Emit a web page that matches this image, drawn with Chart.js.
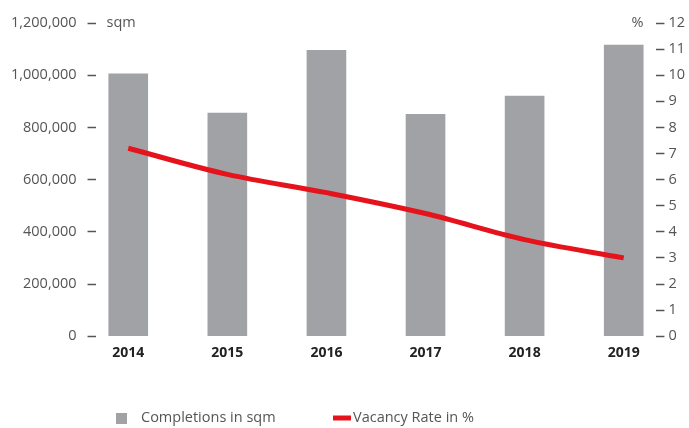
<!DOCTYPE html>
<html>
<head>
<meta charset="utf-8">
<script src="https://cdn.jsdelivr.net/npm/chart.js@4"></script>
<style>
  html, body { margin: 0; padding: 0; background: #fff; }
</style>
</head>
<body>
<canvas id="chart" width="689" height="428"></canvas>
<script>
const years = ["2014", "2015", "2016", "2017", "2018", "2019"];
const completions = [1005000, 855000, 1095000, 850000, 920000, 1115000];
const vacancyRate = [7.2, 6.2, 5.5, 4.7, 3.7, 3.0];
const leftTicksMax = 1200000;
const rightTicksMax = 12;

const FONT = "'Open Sans', 'Noto Sans', sans-serif";
const BAR_COLOR = "#a0a2a5";
const LINE_COLOR = "#e5141c";
const TEXT_COLOR = "#555555";

// unit labels next to top ticks + legend at bottom
const extras = {
    id: "extras",
    afterDraw(chart) {
        const ctx = chart.ctx;
        const area = chart.chartArea;
        const yTop = chart.scales.y.getPixelForValue(leftTicksMax);
        ctx.save();
        ctx.font = "14.5px " + FONT;
        ctx.fillStyle = TEXT_COLOR;
        ctx.textBaseline = "middle";
        ctx.textAlign = "left";
        ctx.fillText("sqm", area.left + 11, yTop);
        ctx.textAlign = "right";
        ctx.fillText("%", area.right - 13, yTop);

        // legend
        const ly = 418;
        ctx.textAlign = "left";
        ctx.fillStyle = BAR_COLOR;
        ctx.fillRect(116, ly - 5, 11, 11);
        ctx.fillStyle = TEXT_COLOR;
        ctx.fillText("Completions in sqm", 141, ly);
        ctx.strokeStyle = LINE_COLOR;
        ctx.lineWidth = 5;
        ctx.beginPath();
        ctx.moveTo(333, ly);
        ctx.lineTo(351, ly);
        ctx.stroke();
        ctx.fillText("Vacancy Rate in %", 353, ly);
        ctx.restore();
    }
};

const ctx = document.getElementById("chart").getContext("2d");

new Chart(ctx, {
    type: "bar",
    data: {
        datasets: [{
            type: "line",
            label: "Vacancy Rate in %",
            data: vacancyRate.map((v, i) => ({ x: i, y: v })),
            yAxisID: "y1",
            borderColor: LINE_COLOR,
            borderWidth: 5,
            pointRadius: 0,
            tension: 0.35,
            fill: false,
            order: 0
        }, {
            label: "Completions in sqm",
            data: completions.map((v, i) => ({ x: i, y: v })),
            yAxisID: "y",
            backgroundColor: BAR_COLOR,
            barThickness: 39,
            order: 1
        }]
    },
    options: {
        responsive: false,
        animation: false,
        devicePixelRatio: 1,
        layout: { padding: { top: 23, left: 0, right: 0, bottom: 67 } },
        plugins: {
            legend: { display: false },
            tooltip: { enabled: false }
        },
        scales: {
            x: {
                type: "linear",
                offset: false,
                min: -0.33,
                max: 5.33,
                afterBuildTicks: scale => {
                    scale.ticks = years.map((y, i) => ({ value: i }));
                },
                grid: { display: false, offset: false },
                border: { display: false },
                ticks: {
                    callback: v => years[v],
                    color: "#222",
                    font: { family: FONT, size: 14, weight: "bold" },
                    padding: 0,
                    maxRotation: 0
                }
            },
            y: {
                position: "left",
                min: 0,
                max: leftTicksMax,
                ticks: {
                    stepSize: 200000,
                    callback: v => v.toLocaleString("en-US"),
                    color: TEXT_COLOR,
                    font: { family: FONT, size: 14.5 },
                    padding: 11
                },
                grid: {
                    drawOnChartArea: false,
                    drawTicks: true,
                    tickLength: 8,
                    tickColor: "#555",
                    tickWidth: 1.5
                },
                border: { display: false }
            },
            y1: {
                position: "right",
                min: 0,
                max: rightTicksMax,
                ticks: {
                    stepSize: 1,
                    color: TEXT_COLOR,
                    font: { family: FONT, size: 14.5 },
                    padding: 4
                },
                grid: {
                    drawOnChartArea: false,
                    drawTicks: true,
                    tickLength: 8,
                    tickColor: "#555",
                    tickWidth: 1.5
                },
                border: { display: false }
            }
        }
    },
    plugins: [extras]
});
</script>
</body>
</html>
